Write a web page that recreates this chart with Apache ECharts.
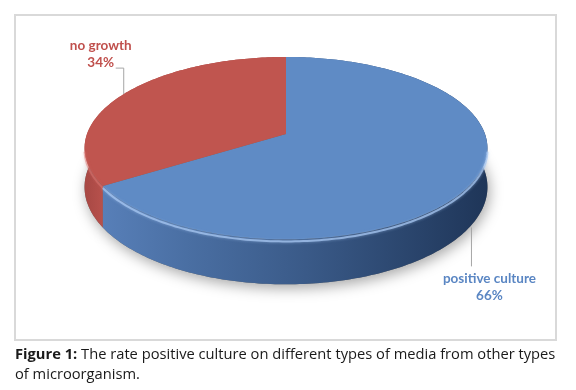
<!DOCTYPE html>
<html><head><meta charset="utf-8">
<script src="https://cdn.jsdelivr.net/npm/echarts@6/dist/echarts.min.js"></script>
<style>html,body{margin:0;padding:0;background:#fff}#c{width:576px;height:390px}</style>
</head><body><div id="c"></div>
<script>
// ---- data ----
const categories = ['positive culture', 'no growth'];
const values = [66, 34];
const percentLabels = ['66%', '34%'];

// ---- styles / layout (not data) ----
const topColors = ['#5f8bc5', '#c0554f'];
const labelColors = ['#5a86c3', '#c0504d'];
const wallStops = [
  [[0, '#5a82bc'], [0.25, '#4a6fa3'], [0.55, '#3a5a88'], [1, '#1f3659']],
  [[0, '#a94945'], [0.05, '#bb534e'], [0.25, '#a84a46'], [1, '#8a3030']]
];
const rimColors = ['rgba(165,198,240,0.75)', 'rgba(220,120,115,0.5)'];
const labelLayout = [
  {lead: [[-3, 6], [-3, 45]], tx: 15, ty: [57, 74]},
  {lead: [[0, 0], [0, -26], [-8, -26]], tx: -23, ty: [-48, -31]}
];
const P = 0.155;   // perspective strength
const H = 0.427;   // thickness (in y-axis units)

const total = values.reduce((a, b) => a + b, 0);
const starts = [];
values.reduce((acc, v, i) => { starts[i] = acc; return acc + v; }, 0);

function proj(api, deg, depth) {
  const t = deg * Math.PI / 180;
  const u = Math.sin(t), v = -Math.cos(t);
  const f = 1 / (1 - P * v);
  return api.coord([u * f, -v * f - depth * f]);
}
function arc(api, a, b, depth) {
  const pts = [];
  const n = Math.max(2, Math.ceil(Math.abs(b - a)));
  for (let k = 0; k <= n; k++) pts.push(proj(api, a + (b - a) * k / n, depth));
  return pts;
}
function sliceAngles(api) {
  const i = api.value(0);
  const a = starts[i] / total * 360;
  const b = (starts[i] + api.value(2)) / total * 360;
  return [i, a, b];
}

function renderBase(params, api) {
  const [i, a, b] = sliceAngles(api);
  const cb = api.coord([0, -H]);
  return {type: 'polygon', shape: {points: [cb].concat(arc(api, a, b, H))},
    style: {fill: '#6a6a6a', shadowBlur: 14, shadowColor: 'rgba(0,0,0,0.35)', shadowOffsetY: 4, shadowOffsetX: 2}};
}

function renderWall(params, api) {
  const [i, a, b] = sliceAngles(api);
  const topArc = arc(api, a, b, 0);
  const botArc = arc(api, a, b, H);
  const x0 = api.coord([-1, 0])[0], x1 = api.coord([1, 0])[0];
  return {type: 'polygon', shape: {points: topArc.concat(botArc.slice().reverse())},
    style: {fill: {type: 'linear', x: x0, y: 0, x2: x1, y2: 0, global: true,
      colorStops: wallStops[i].map(s => ({offset: s[0], color: s[1]}))}}};
}

function renderTop(params, api) {
  const [i, a, b] = sliceAngles(api);
  const c = api.coord([0, 0]);
  const topArc = arc(api, a, b, 0);
  const children = [
    {type: 'polygon', shape: {points: [c].concat(topArc)}, style: {fill: topColors[i]}}
  ];
  const fa = Math.max(a, 100), fb = Math.min(b, 260);
  if (fb > fa) {
    children.push({type: 'polyline', shape: {points: arc(api, fa, fb, 0.02)},
      style: {stroke: rimColors[i], lineWidth: 2, fill: null, shadowBlur: 3, shadowColor: rimColors[i]}});
  }
  // label
  const mid = (a + b) / 2;
  const vMid = -Math.cos(mid * Math.PI / 180);
  const anchor = proj(api, mid, vMid > 0 ? H : 0);
  const L = labelLayout[i];
  children.push({type: 'polyline',
    shape: {points: L.lead.map(p => [anchor[0] + p[0], anchor[1] + p[1]])},
    style: {stroke: '#a6a6a6', lineWidth: 1, fill: null}});
  [categories[i], percentLabels[i]].forEach((t, k) => {
    children.push({type: 'text', x: anchor[0] + L.tx, y: anchor[1] + L.ty[k],
      style: {text: t, fill: labelColors[i], font: 'bold 13.5px Lato', align: 'center', verticalAlign: 'middle'}});
  });
  return {type: 'group', children};
}

const seriesData = values.map((v, i) => ({name: categories[i], value: [i, 0, v]}));

const chart = echarts.init(document.getElementById('c'), null, {renderer: 'canvas'});
chart.setOption({
  animation: false,
  backgroundColor: '#ffffff',
  grid: {left: 87, right: 91, top: 45, bottom: 167},
  xAxis: {type: 'value', min: -1, max: 1, show: false},
  yAxis: {type: 'value', min: -1, max: 1, show: false},
  graphic: [
    {type: 'rect', shape: {x: 15, y: 15, width: 541, height: 325},
     style: {fill: null, stroke: '#d9d9d9', lineWidth: 2}},
    {type: 'text', x: 15, y: 355,
     style: {text: '{b|Figure 1:} The rate positive culture on different types of media from other types',
       rich: {b: {fontWeight: 'bold', fontSize: 14.7, fontFamily: 'Open Sans', fill: '#1a1a1a'}},
       fontSize: 14.7, fontFamily: 'Open Sans', fill: '#1a1a1a', verticalAlign: 'middle'}},
    {type: 'text', x: 15, y: 375,
     style: {text: 'of microorganism.', fontSize: 14.7, fontFamily: 'Open Sans', fill: '#1a1a1a', verticalAlign: 'middle'}}
  ],
  series: [
    {type: 'custom', name: 'base', coordinateSystem: 'cartesian2d', encode: {x: 1, y: 1},
     data: seriesData, renderItem: renderBase, silent: true},
    {type: 'custom', name: 'wall', coordinateSystem: 'cartesian2d', encode: {x: 1, y: 1},
     data: seriesData, renderItem: renderWall, silent: true},
    {type: 'custom', name: 'top', coordinateSystem: 'cartesian2d', encode: {x: 1, y: 1},
     data: seriesData, renderItem: renderTop, silent: true}
  ]
});
</script>
</body></html>
